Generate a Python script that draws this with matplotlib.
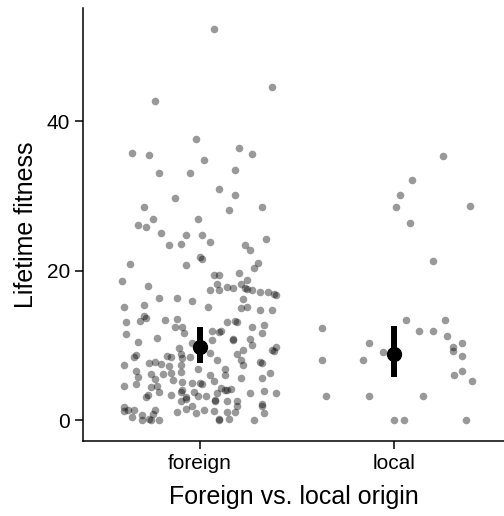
import numpy as np
import matplotlib
matplotlib.use("Agg")
from matplotlib import pyplot as plt

plt.rcParams['font.family'] = ['Liberation Sans', 'DejaVu Sans']

categories = ["foreign", "local"]

# lifetime fitness of each individual
foreign_fitness = [
    52.4, 44.6, 42.7, 37.7, 35.8, 35.5, 36.4, 35.7, 34.9, 33.1, 33.1, 33.5, 30.9, 30.2,
    29.8, 28.6, 28.5, 28.1, 26.9, 26.9,
    26.2, 25.9, 25.0, 24.8, 24.8, 23.4, 23.6, 23.8, 23.4, 22.8, 24.2, 21.8, 21.6,
    20.9, 20.8, 21.1, 20.4,
    18.6, 18.0, 19.4, 19.5, 19.7, 18.8, 18.3, 17.8, 17.7, 18.3, 17.7, 17.5, 17.4, 17.2,
    17.2, 16.7, 16.9, 17.4, 17.4,
    16.3, 16.4, 16.0, 15.2, 16.2, 15.0, 15.2, 14.7, 14.7, 15.2, 15.4,
    13.2, 13.3, 13.7, 13.9, 13.4, 13.6, 12.5, 12.5, 13.2, 13.3, 13.1, 12.7, 12.5,
    11.6, 10.5, 11.0, 11.7, 12.0, 12.0, 11.8, 11.7, 10.9, 10.7, 10.9, 10.0, 10.8, 10.3,
    8.7, 8.4, 7.4, 7.7, 7.8, 7.5, 8.6, 8.4, 9.7, 8.9, 8.3, 8.4, 9.0, 8.9, 9.4, 8.0, 7.4,
    9.4, 9.2, 9.8, 7.6, 7.8, 8.0, 7.4, 7.2,
    6.6, 5.8, 4.6, 4.8, 6.2, 6.2, 5.5, 6.3, 5.4, 6.9, 6.1, 6.9, 6.1, 5.3, 5.0, 4.8, 5.0,
    5.1, 5.6, 5.7, 6.3, 6.4,
    3.4, 3.1, 4.5, 3.8, 4.6, 3.4, 4.0, 3.8, 3.1, 2.9, 2.6, 3.8, 3.2, 3.2, 3.7, 2.7, 2.5,
    4.3, 4.0, 4.1, 4.2, 3.7, 3.9, 3.7, 2.5,
    1.7, 1.2, 1.3, 1.3, 0.4, 0.7, 0.0, 0.0, 0.2, 1.4, 0.8, 0.0, 1.1, 1.5, 1.9, 0.9, 1.4,
    1.2, 0.0, 0.2, 1.1, 2.6, 1.1, 0.2, 1.9, 1.9, 2.1, 1.0, 0.0,
]
# horizontal jitter of each foreign point, in category units
foreign_jitter = [
    0.07, 0.37, -0.23, -0.02, -0.35, -0.26, 0.20, 0.27, 0.02, -0.21, -0.05, 0.18, 0.10, 0.18,
    -0.13, -0.29, 0.32, 0.15, -0.24, -0.01,
    -0.32, -0.28, -0.20, -0.07, 0.01, -0.16, -0.10, 0.05, 0.23, 0.26, 0.34, 0.00, 0.01,
    -0.36, -0.07, 0.30, 0.28,
    -0.40, -0.27, 0.07, 0.10, 0.20, 0.24, 0.09, 0.14, 0.17, 0.21, 0.23, 0.24, 0.27, 0.31,
    0.35, 0.39, 0.38, 0.05, 0.10,
    -0.21, -0.12, -0.04, 0.04, 0.22, 0.21, 0.24, 0.31, 0.37, -0.39, -0.29,
    -0.38, -0.31, -0.28, -0.29, -0.18, -0.12, -0.13, -0.09, 0.14, 0.18, 0.19, 0.33, 0.27,
    -0.38, -0.32, -0.22, -0.08, 0.06, 0.11, 0.10, 0.32, 0.26, 0.17, 0.17, 0.27, 0.06, -0.04,
    -0.33, -0.34, -0.39, -0.26, -0.23, -0.20, -0.17, -0.15, -0.11, -0.10, -0.09, -0.05, 0.05,
    0.19, 0.22, 0.21, 0.22, 0.37, 0.38, 0.39, 0.32, 0.31, 0.09, -0.10, -0.16,
    -0.33, -0.32, -0.39, -0.33, -0.25, -0.19, -0.23, -0.15, -0.14, -0.01, 0.05, 0.13, 0.13,
    0.07, 0.00, 0.01, -0.04, -0.09, 0.21, 0.32, 0.36, -0.10,
    -0.27, -0.28, -0.25, -0.21, -0.22, -0.15, -0.09, -0.10, -0.07, -0.07, -0.10, -0.03,
    -0.01, 0.03, 0.09, 0.08, 0.08, 0.11, 0.13, 0.14, 0.16, 0.26, 0.33, 0.39, 0.14,
    -0.39, -0.39, -0.37, -0.34, -0.35, -0.30, -0.30, -0.25, -0.26, -0.23, -0.24, -0.21,
    -0.12, -0.07, -0.04, -0.02, 0.02, 0.07, 0.10, 0.10, 0.14, 0.19, 0.18, 0.15, 0.19,
    0.32, 0.32, 0.33, 0.28,
]

local_fitness = [
    35.4, 32.1, 30.1, 28.5, 28.7, 26.4, 21.3, 12.3, 13.4, 13.4, 11.9, 11.9, 11.3, 10.4,
    10.3, 9.8, 9.3, 9.1, 8.6, 8.0, 8.1, 6.6, 6.1, 5.2, 3.2, 3.3, 3.2, 0.0, 0.0, 0.0,
]
local_jitter = [
    0.25, 0.09, 0.03, 0.01, 0.39, 0.08, 0.20, -0.37, 0.06, 0.26, 0.13, 0.20, 0.27, -0.13,
    0.35, 0.30, 0.30, -0.06, 0.35, -0.37, -0.16, 0.35, 0.31, 0.40, -0.35, -0.13, 0.15,
    0.00, 0.05, 0.37,
]

# group estimates with interval
group_mean = [9.8, 8.9]
group_lower = [7.6, 5.8]
group_upper = [12.5, 12.6]

fig = plt.figure(figsize=(5.04, 5.16), dpi=100)
ax = fig.add_axes([83 / 504, 75.3 / 516, 421 / 504, 432.7 / 516])

pos = np.arange(1, len(categories) + 1)
ax.scatter(pos[0] + np.array(foreign_jitter), foreign_fitness, s=30, color="black",
           alpha=0.4, linewidths=0, zorder=2)
ax.scatter(pos[1] + np.array(local_jitter), local_fitness, s=30, color="black",
           alpha=0.4, linewidths=0, zorder=2)

for i in range(len(categories)):
    ax.plot([pos[i], pos[i]], [group_lower[i], group_upper[i]], color="black",
            lw=4.3, solid_capstyle="butt", zorder=3)
ax.plot(pos, group_mean, "o", color="black", ms=10, ls="none", zorder=4)

ax.set_xlim(0.398, 2.565)
ax.set_ylim(-2.75, 55.2)
ax.set_xticks(pos)
ax.set_xticklabels(categories)
ax.set_yticks([0, 20, 40])

ax.set_xlabel("Foreign vs. local origin", fontsize=18, labelpad=9)
ax.set_ylabel("Lifetime fitness", fontsize=18, labelpad=6)

ax.spines["top"].set_visible(False)
ax.spines["right"].set_visible(False)
for s in ["left", "bottom"]:
    ax.spines[s].set_linewidth(1.1)
ax.tick_params(axis="both", labelsize=15, length=5.5, width=1.1, colors="black", pad=4)

fig.savefig("out.png", dpi=100)
